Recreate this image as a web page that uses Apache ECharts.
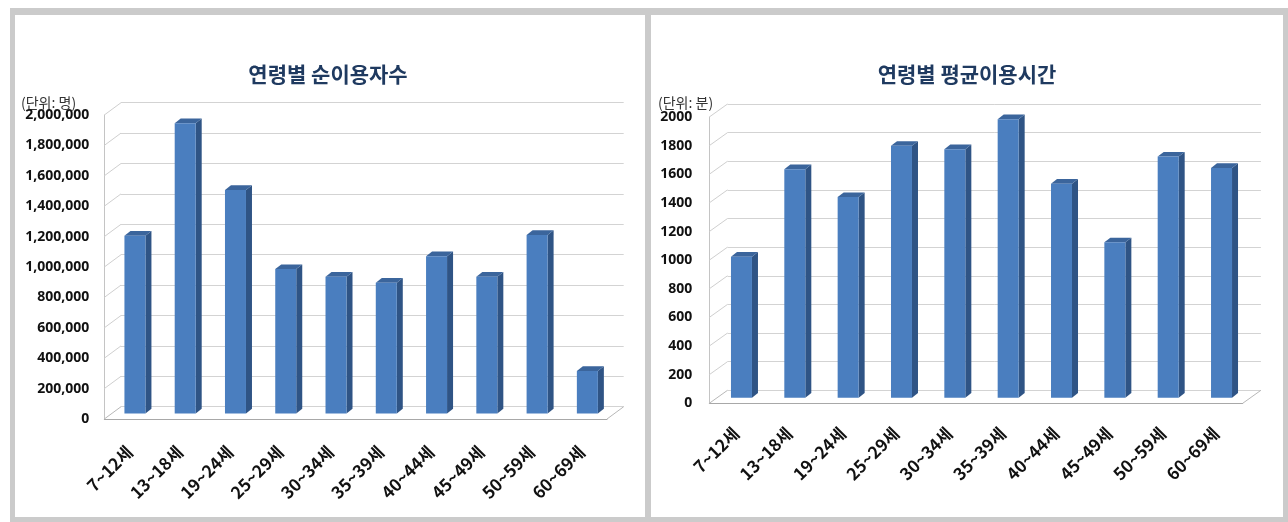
<!DOCTYPE html>
<html>
<head>
<meta charset="utf-8">
<script src="https://cdn.jsdelivr.net/npm/echarts@6/dist/echarts.min.js"></script>
<style>
  html, body { margin: 0; padding: 0; background: #ffffff; }
  #chart { width: 1288px; height: 522px; }
</style>
</head>
<body>
<div id="chart"></div>
<script>
// Age groups shared by both charts
const ageGroups = ['7~12세', '13~18세', '19~24세', '25~29세', '30~34세', '35~39세', '40~44세', '45~49세', '50~59세', '60~69세'];
// Net users per age group (persons)
const netUsers = [1170000, 1910000, 1470000, 950000, 900000, 860000, 1035000, 900000, 1175000, 280000];
// Average usage time per age group (minutes)
const avgMinutes = [985, 1597, 1402, 1760, 1737, 1946, 1495, 1086, 1685, 1606];
// Value-axis ranges
const usersAxis = { max: 2000000, step: 200000 };
const minutesAxis = { max: 2000, step: 200 };
// Titles and unit captions
const titles = ['연령별 순이용자수', '연령별 평균이용시간'];
const units = ['(단위: 명)', '(단위: 분)'];

const FONT = "'Noto Sans', 'Noto Sans CJK KR', sans-serif";
const CJK_FONT = "'Noto Sans CJK KR', sans-serif";
const LABEL_COLOR = '#111111';

// Front plane of each pseudo-3D plot, plus the depth vector to its back wall
const panels = [
  {
    values: netUsers, axis: usersAxis,
    front: { left: 104.3, top: 115, width: 502.7, height: 304 },
    depth: [16.7, -12.3],
    fmt: v => v.toLocaleString('en-US'),
    labelMargin: 15,
    catMargin: 30
  },
  {
    values: avgMinutes, axis: minutesAxis,
    front: { left: 709.3, top: 117, width: 533.4, height: 286.3 },
    depth: [18.2, -13],
    fmt: v => String(v),
    labelMargin: 17,
    catMargin: 27
  }
];

// Bar prism geometry
const BAR_W = 21;
const BAR_SIDE = [6, -4.7];
const BAR_SHIFT = [5.5, -5.5];
const COLOR_FRONT = '#4A7EBF';
const COLOR_SIDE = '#2F5485';
const COLOR_TOP = '#3B659C';

function renderBar(params, api) {
  const idx = api.value(0);
  const val = api.value(1);
  const base = api.coord([idx, 0]);
  const top = api.coord([idx, val]);
  const x0 = base[0] + BAR_SHIFT[0] - BAR_W / 2;
  const x1 = x0 + BAR_W;
  const yb = base[1] + BAR_SHIFT[1];
  const yt = top[1] + BAR_SHIFT[1];
  const sx = BAR_SIDE[0], sy = BAR_SIDE[1];
  return {
    type: 'group',
    children: [
      { type: 'polygon', shape: { points: [[x1, yt], [x1 + sx, yt + sy], [x1 + sx, yb + sy], [x1, yb]] },
        style: { fill: COLOR_SIDE } },
      { type: 'polygon', shape: { points: [[x0, yt], [x0 + sx, yt + sy], [x1 + sx, yt + sy], [x1, yt]] },
        style: { fill: COLOR_TOP } },
      { type: 'rect', shape: { x: x0, y: yt, width: BAR_W, height: yb - yt },
        style: { fill: COLOR_FRONT } }
    ]
  };
}

function makeWallRenderer(depth) {
  return function (params, api) {
    const cs = params.coordSys;
    const v = api.value(1);
    const y = api.coord([0, v])[1];
    const lineStyle = { stroke: v === 0 ? '#b8b8b8' : '#cfcfcf', lineWidth: 1 };
    const children = [
      { type: 'line', shape: { x1: cs.x, y1: y, x2: cs.x + depth[0], y2: y + depth[1] }, style: lineStyle }
    ];
    if (v === 0) {
      const xr = cs.x + cs.width;
      children.push({ type: 'line', shape: { x1: xr, y1: y, x2: xr + depth[0], y2: y + depth[1] }, style: lineStyle });
    }
    return { type: 'group', children };
  };
}

const grid = [], xAxis = [], yAxis = [], series = [];

panels.forEach((p, i) => {
  const f = p.front;
  const back = { left: f.left + p.depth[0], top: f.top + p.depth[1], width: f.width, height: f.height };
  grid.push(f, back);
  const gFront = 2 * i, gBack = 2 * i + 1;

  xAxis.push({
    gridIndex: gFront, type: 'category', data: ageGroups,
    axisTick: { show: false },
    axisLine: { show: true, lineStyle: { color: '#a8a8a8', width: 1 } },
    axisLabel: {
      interval: 0, rotate: 45, margin: p.catMargin,
      fontFamily: CJK_FONT, fontSize: 17, fontWeight: 'bold', color: LABEL_COLOR
    }
  });
  xAxis.push({ gridIndex: gBack, type: 'category', data: ageGroups, show: false });

  yAxis.push({
    gridIndex: gFront, type: 'value', min: 0, max: p.axis.max, interval: p.axis.step,
    splitLine: { show: false },
    axisTick: { show: false },
    axisLine: { show: true, lineStyle: { color: '#c4c4c4', width: 1 } },
    axisLabel: {
      margin: p.labelMargin, formatter: p.fmt,
      fontFamily: FONT, fontSize: 14, fontWeight: 'bold', color: LABEL_COLOR
    }
  });
  yAxis.push({
    gridIndex: gBack, type: 'value', min: 0, max: p.axis.max, interval: p.axis.step,
    axisLabel: { show: false }, axisTick: { show: false }, axisLine: { show: false },
    splitLine: { show: true, lineStyle: { color: '#d3d3d3', width: 1 } }
  });

  const ticks = [];
  for (let t = 0; t <= p.axis.max; t += p.axis.step) ticks.push([0, t]);

  series.push({
    type: 'custom', xAxisIndex: gFront, yAxisIndex: gFront,
    data: ticks, renderItem: makeWallRenderer(p.depth), z: 1, silent: true
  });
  series.push({
    type: 'custom', xAxisIndex: gFront, yAxisIndex: gFront,
    data: p.values.map((v, k) => [k, v]), renderItem: renderBar, z: 3
  });
});

// Frame, panel backgrounds, titles and unit captions
const titleFont = "bold 21px 'Noto Sans CJK KR', sans-serif";
const unitFont = "14px 'Noto Sans CJK KR', sans-serif";
const graphic = [
  { type: 'rect', z: -10, shape: { x: 10, y: 8, width: 1278, height: 514 }, style: { fill: '#cbcbcb' } },
  { type: 'rect', z: -9, shape: { x: 15, y: 15, width: 630, height: 502 }, style: { fill: '#ffffff' } },
  { type: 'rect', z: -9, shape: { x: 651, y: 15, width: 632, height: 502 }, style: { fill: '#ffffff' } },
  { type: 'text', x: 328, y: 74, style: { text: titles[0], fill: '#1F3A60', font: titleFont, align: 'center', verticalAlign: 'middle' } },
  { type: 'text', x: 967, y: 74, style: { text: titles[1], fill: '#1F3A60', font: titleFont, align: 'center', verticalAlign: 'middle' } },
  { type: 'text', x: 21, y: 103, style: { text: units[0], fill: '#333333', font: unitFont, align: 'left', verticalAlign: 'middle' } },
  { type: 'text', x: 658, y: 103, style: { text: units[1], fill: '#333333', font: unitFont, align: 'left', verticalAlign: 'middle' } }
];

const chart = echarts.init(document.getElementById('chart'), null, { renderer: 'canvas' });
chart.setOption({
  animation: false,
  backgroundColor: '#ffffff',
  graphic,
  grid,
  xAxis,
  yAxis,
  series
});
</script>
</body>
</html>
